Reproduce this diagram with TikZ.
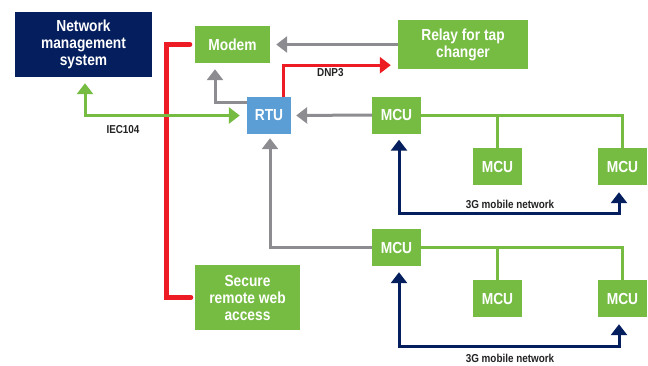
\documentclass[tikz,border=0pt]{standalone}
\usepackage{fontspec}
\setmainfont{Liberation Sans}[FakeStretch=0.86]
\usetikzlibrary{arrows.meta}
\definecolor{cgreen}{RGB}{118,188,67}
\definecolor{cnavy}{RGB}{4,30,94}
\definecolor{cblue}{RGB}{91,158,214}
\definecolor{cgray}{RGB}{140,140,145}
\definecolor{cred}{RGB}{237,28,36}
\definecolor{ctext}{RGB}{35,35,35}
\tikzset{
  bigtip/.tip={Triangle[width=16pt,length=11pt]},
  box/.style={inner sep=0pt, text=white, font=\bfseries\fontsize{16}{17}\selectfont, align=center},
  gbox/.style={box, fill=cgreen},
  mcu/.style={gbox, minimum width=49pt, minimum height=37pt},
  lbl/.style={text=ctext, font=\bfseries\fontsize{11.5}{13}\selectfont, inner sep=0pt},
  grayarrow/.style={draw=cgray, line width=3pt, -{bigtip}},
  greenline/.style={draw=cgreen, line width=3pt},
  navyarrow/.style={draw=cnavy, line width=3pt, {bigtip}-{bigtip}},
  redarrow/.style={draw=cred, line width=3pt, -{bigtip}},
  redthick/.style={draw=cred, line width=5pt, line cap=round},
}
\begin{document}
\begin{tikzpicture}[x=1pt,y=-1pt]
\useasboundingbox (0,0) rectangle (648,365);
% nodes
\node[box, fill=cnavy, minimum width=137pt, minimum height=65pt] (nms) at (83.5,44.5) {Network\\management\\system};
\node[gbox, minimum width=75pt, minimum height=37pt] (modem) at (232.5,44.5) {Modem};
\node[box, fill=cblue, minimum width=44pt, minimum height=37pt] (rtu) at (269,115.5) {RTU};
\node[gbox, minimum width=130pt, minimum height=49pt] (relay) at (463,44.5) {Relay for tap\\changer};
\node[mcu] (mcu1) at (396.5,115) {MCU};
\node[mcu] (mcu2) at (497.5,166.5) {MCU};
\node[mcu] (mcu3) at (622.5,166.5) {MCU};
\node[mcu] (mcu4) at (396.5,247.5) {MCU};
\node[mcu] (mcu5) at (497.5,298.5) {MCU};
\node[mcu] (mcu6) at (622.5,298.5) {MCU};
\node[gbox, minimum width=105pt, minimum height=65pt] (secure) at (247.5,297.5) {Secure\\remote web\\access};
% connectors
\draw[redthick] ([xshift=-5pt]modem.west) -- ++(-23,0) |- ([xshift=-4pt]secure.west);
\draw[grayarrow, shorten >=6pt] (relay.west) -- (modem.east);
\draw[redarrow] ([xshift=-8pt]rtu.north east) |- ([xshift=-7pt,yshift=4pt]relay.south west);
\node[lbl, anchor=west] (dnp) at (317,73) {DNP3};
\draw[grayarrow, shorten >=6pt] ([yshift=-6pt]rtu.north west) -| ([xshift=-17.5pt]modem.south);
\draw[greenline, {bigtip}-{bigtip}, shorten <=6pt, shorten >=7pt] ([xshift=1.5pt]nms.south) |- (rtu.west);
\node[lbl] (iec) at (123,130) {IEC104};
\draw[grayarrow, shorten >=5pt] (mcu1.west) -- (rtu.east);
\draw[grayarrow, shorten >=4pt] (mcu4.west) -| ([xshift=1pt]rtu.south);
\draw[greenline] (mcu1.east) -| (mcu2.north);
\draw[greenline] (mcu1.east) -| (mcu3.north);
\draw[greenline] (mcu4.east) -| (mcu5.north);
\draw[greenline] (mcu4.east) -| (mcu6.north);
\draw[navyarrow, shorten <=6pt, shorten >=7pt] ([xshift=2.5pt]mcu1.south) |- ([xshift=-3.5pt,yshift=-28pt]mcu3.south) -- ([xshift=-3.5pt]mcu3.south);
\node[lbl] (g1) at (510,204) {3G mobile network};
\draw[navyarrow, shorten <=6pt, shorten >=7pt] ([xshift=2.5pt]mcu4.south) |- ([xshift=-3.5pt,yshift=-29pt]mcu6.south) -- ([xshift=-3.5pt]mcu6.south);
\node[lbl] (g2) at (510,358) {3G mobile network};
\end{tikzpicture}
\end{document}
